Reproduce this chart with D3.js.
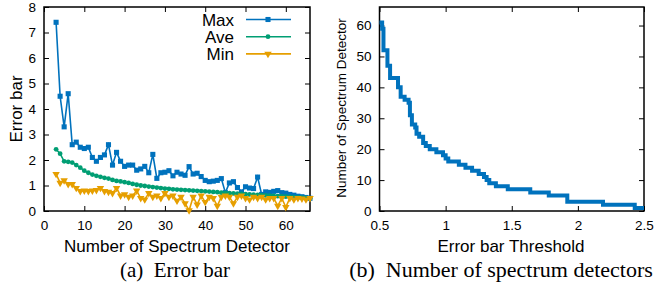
<!DOCTYPE html>
<html>
<head>
<meta charset="utf-8">
<script src="https://cdn.jsdelivr.net/npm/d3@7"></script>
<style>
body{margin:0;background:#fff;}
svg{display:block;}
.tick text{font-family:"Liberation Sans",Arial,sans-serif;font-size:13.5px;fill:#000;}
</style>
</head>
<body>
<div id="chart"></div>
<script>
// left panel: error bar per number of detectors
var detectors = [3,4,5,6,7,8,9,10,11,12,13,14,15,16,17,18,19,20,21,22,23,24,25,26,27,28,29,30,31,32,33,34,
  35,36,37,38,39,40,41,42,43,44,45,46,47,48,49,50,51,52,53,54,55,56,57,58,59,60,61,62,63,64,65,66];
var maxVals = [7.4,4.5,3.3,4.6,2.6,2.7,2.5,2.45,2.5,2.1,1.95,2.1,2.2,2.6,1.8,2.3,1.95,1.75,1.8,1.8,1.6,1.65,
  1.75,1.5,2.22,1.28,1.5,1.52,1.58,1.38,1.52,1.45,1.4,1.74,1.45,1.48,1.35,1.2,1.15,1.17,1.2,1.27,0.72,1.1,
  1.15,0.92,0.75,0.95,0.9,0.88,1.33,0.65,0.75,0.73,0.77,0.8,0.72,0.7,0.65,0.62,0.58,0.56,0.53,0.5];
var aveVals = [2.42,2.25,1.95,1.93,1.9,1.8,1.7,1.58,1.5,1.43,1.38,1.34,1.3,1.27,1.22,1.18,1.16,1.13,1.1,1.06,
  1.03,1.0,0.98,0.96,0.94,0.92,0.9,0.88,0.87,0.85,0.84,0.83,0.82,0.81,0.8,0.79,0.78,0.77,0.76,0.75,0.74,0.72,
  0.71,0.7,0.69,0.68,0.67,0.66,0.65,0.64,0.63,0.62,0.61,0.6,0.59,0.58,0.57,0.56,0.55,0.54,0.53,0.52,0.51,0.5];
var minVals = [1.45,1.1,1.2,1.05,1.05,0.9,0.78,0.8,0.78,0.8,0.82,0.9,0.78,0.75,0.7,0.9,0.6,0.65,0.55,0.6,0.8,
  0.5,0.45,0.7,0.55,0.6,0.5,0.7,0.55,0.6,0.4,0.55,0.3,0.02,0.55,0.25,0.6,0.35,0.55,0.5,0.2,0.55,0.6,0.55,
  0.3,0.55,0.6,0.5,0.45,0.55,0.5,0.55,0.45,0.5,0.5,0.2,0.5,0.15,0.5,0.45,0.5,0.48,0.45,0.5];
var seriesNames = ["Max","Ave","Min"];
var leftXTicks = [0,10,20,30,40,50,60];
var leftYTicks = [0,1,2,3,4,5,6,7,8];

// right panel: step curve
var thresholds = [0.5,0.52,0.53,0.56,0.58,0.64,0.66,0.69,0.72,0.73,0.745,0.77,0.78,0.8,0.83,0.85,0.88,0.93,
  0.98,1.0,1.02,1.1,1.15,1.2,1.25,1.29,1.31,1.33,1.38,1.47,1.64,1.78,1.92,2.19,2.43,2.5];
var counts = [61,59,52,47,43,40,37,36,35,31,28,27,25,24,22,21,20,19,18,17,16,15,14,13,12,11,10,9,8,7,6,5,3,2,1,1];
var rightXTicks = [0.5,1,1.5,2,2.5];
var rightYTicks = [0,10,20,30,40,50,60];

var colors = ["#0072bd","#009e73","#e69f00"];
var W = 659, H = 286;
var svg = d3.select("#chart").append("svg").attr("width",W).attr("height",H);
var sans = '"Liberation Sans",Arial,sans-serif';
var serif = '"Liberation Serif","Times New Roman",serif';

function frame(g, x, y, xt, yt, fmt){
	var r = x.range(), t = y.range();
	g.append("g").attr("transform","translate(0,"+t[0]+")")
		.call(d3.axisBottom(x).tickValues(xt).tickSize(-5).tickPadding(9).tickFormat(fmt));
	g.append("g").attr("transform","translate(0,"+t[1]+")")
		.call(d3.axisTop(x).tickValues(xt).tickSize(-5).tickFormat(""));
	g.append("g").attr("transform","translate("+r[0]+",0)")
		.call(d3.axisLeft(y).tickValues(yt).tickSize(-5).tickPadding(8));
	g.append("g").attr("transform","translate("+r[1]+",0)")
		.call(d3.axisRight(y).tickValues(yt).tickSize(-5).tickFormat(""));
	g.selectAll(".domain").remove();
	g.selectAll(".tick line").attr("stroke","#000").attr("stroke-width",1);
	g.append("rect").attr("x",r[0]).attr("y",t[1]).attr("width",r[1]-r[0]).attr("height",t[0]-t[1])
		.attr("fill","none").attr("stroke","#000").attr("stroke-width",1.5);
}

// ---- left
var xL = d3.scaleLinear().domain([0,66]).range([44,310]);
var yL = d3.scaleLinear().domain([0,8]).range([211,7]);
var gL = svg.append("g");
frame(gL, xL, yL, leftXTicks, leftYTicks, d3.format("d"));

var allSeries = [maxVals, aveVals, minVals];
var line = d3.line().x(function(d,i){ return xL(detectors[i]); }).y(function(d){ return yL(d); });
var sym = [d3.symbolSquare, d3.symbolCircle, d3.symbolTriangle];
var symSize = [26, 18, 24];

function marker(g, k, cx, cy){
	g.append("path").attr("d", d3.symbol().type(sym[k]).size(symSize[k]))
		.attr("transform","translate("+cx+","+cy+")"+(k==2?" rotate(180)":""))
		.attr("fill",colors[k]);
}
allSeries.forEach(function(vals,k){
	gL.append("path").datum(vals).attr("d",line).attr("fill","none")
		.attr("stroke",colors[k]).attr("stroke-width",1.6);
	var mg = gL.append("g");
	vals.forEach(function(v,i){ marker(mg, k, xL(detectors[i]), yL(v)); });
});

// legend
seriesNames.forEach(function(n,k){
	var ly = 19.5 + k*17.2;
	gL.append("text").attr("x",234).attr("y",ly+6.5).attr("text-anchor","end")
		.attr("font-family",sans).attr("font-size",17).text(n);
	gL.append("line").attr("x1",246).attr("x2",291).attr("y1",ly).attr("y2",ly)
		.attr("stroke",colors[k]).attr("stroke-width",1.6);
	marker(gL, k, 268, ly);
});

gL.append("text").attr("transform","translate(22,109) rotate(-90)").attr("text-anchor","middle")
	.attr("font-family",sans).attr("font-size",17).text("Error bar");
gL.append("text").attr("x",177).attr("y",252).attr("text-anchor","middle")
	.attr("font-family",sans).attr("font-size",17).text("Number of Spectrum Detector");
gL.append("text").attr("x",175).attr("y",277).attr("text-anchor","middle")
	.attr("font-family",serif).attr("font-size",21).attr("xml:space","preserve").text("(a)  Error bar");

// ---- right
var xR = d3.scaleLinear().domain([0.5,2.5]).range([379.5,644]);
var yR = d3.scaleLinear().domain([0,66]).range([211,7]);
var gR = svg.append("g");
frame(gR, xR, yR, rightXTicks, rightYTicks, d3.format("~g"));

var step = d3.line().curve(d3.curveStepAfter)
	.x(function(d,i){ return xR(thresholds[i]); }).y(function(d){ return yR(d); });
gR.append("path").datum(counts).attr("d",step).attr("fill","none")
	.attr("stroke",colors[0]).attr("stroke-width",4);

gR.append("text").attr("transform","translate(346,108) rotate(-90)").attr("text-anchor","middle")
	.attr("font-family",sans).attr("font-size",13.5).text("Number of Spectrum Detector");
gR.append("text").attr("x",511).attr("y",252).attr("text-anchor","middle")
	.attr("font-family",sans).attr("font-size",17).text("Error bar Threshold");
gR.append("text").attr("x",501).attr("y",277).attr("text-anchor","middle")
	.attr("font-family",serif).attr("font-size",22).attr("xml:space","preserve").text("(b)  Number of spectrum detectors");
</script>
</body>
</html>
